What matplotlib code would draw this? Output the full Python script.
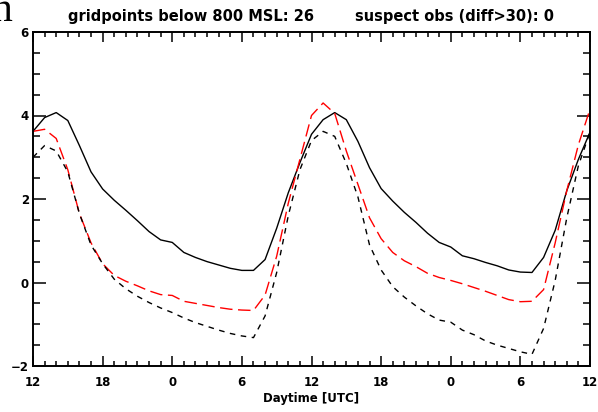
import matplotlib
matplotlib.use("Agg")
import matplotlib.pyplot as plt
from matplotlib.ticker import MultipleLocator

# hours since 12 UTC, hourly
hours = list(range(49))
tick_labels = ["12", "18", "0", "6", "12", "18", "0", "6", "12"]

# black solid
obs = [3.62, 3.95, 4.07, 3.88, 3.28, 2.65, 2.24, 1.97, 1.73, 1.48,
       1.22, 1.02, 0.96, 0.72, 0.60, 0.50, 0.42, 0.34, 0.29, 0.29,
       0.55, 1.30, 2.15, 2.87, 3.55, 3.90, 4.07, 3.90, 3.38, 2.75,
       2.25, 1.95, 1.68, 1.44, 1.18, 0.96, 0.85, 0.64, 0.57, 0.48,
       0.40, 0.30, 0.25, 0.24, 0.60, 1.25, 2.20, 2.95, 3.60]
# red long dashes
model_a = [3.62, 3.67, 3.45, 2.70, 1.65, 0.95, 0.45, 0.17, 0.03, -0.08,
           -0.20, -0.29, -0.31, -0.45, -0.50, -0.55, -0.60, -0.64, -0.66, -0.67,
           -0.30, 0.63, 1.90, 2.95, 4.00, 4.30, 4.05, 3.15, 2.35, 1.55,
           1.05, 0.72, 0.52, 0.38, 0.22, 0.12, 0.05, -0.03, -0.12, -0.21,
           -0.31, -0.41, -0.46, -0.45, -0.17, 0.95, 2.20, 3.30, 4.15]
# black short dashes
model_b = [3.00, 3.28, 3.15, 2.65, 1.65, 0.90, 0.45, 0.08, -0.15, -0.33,
           -0.48, -0.61, -0.72, -0.85, -0.96, -1.05, -1.14, -1.22, -1.28, -1.32,
           -0.80, 0.24, 1.60, 2.70, 3.40, 3.62, 3.50, 2.85, 2.05, 0.90,
           0.30, -0.10, -0.35, -0.56, -0.75, -0.90, -0.95, -1.14, -1.25, -1.40,
           -1.50, -1.58, -1.66, -1.72, -1.10, 0.05, 1.55, 2.80, 3.60]

fig = plt.figure(figsize=(5.98, 4.12), dpi=100)
ax = fig.add_axes([33/598, 46/412, 557/598, 334/412])

ax.plot(hours, obs, color="black", lw=1.0)
ax.plot(hours, model_a, color="red", lw=1.0, dashes=(9, 4))
ax.plot(hours, model_b, color="black", lw=1.0, dashes=(4, 4))

ax.set_xlim(0, 48)
ax.set_ylim(-2, 6)
ax.set_xticks(range(0, 49, 6))
ax.set_xticklabels(tick_labels)
ax.xaxis.set_minor_locator(MultipleLocator(1))
ax.set_yticks([-2, 0, 2, 4, 6])
ax.yaxis.set_minor_locator(MultipleLocator(0.5))

ax.tick_params(which="both", direction="in", top=True, right=True, width=1.1,
               labelsize=8.5)
ax.tick_params(axis="x", which="major", length=7, pad=7.5)
ax.tick_params(axis="x", which="minor", length=3.5)
ax.tick_params(axis="y", which="major", length=9.5, pad=3)
ax.tick_params(axis="y", which="minor", length=5)
for lab in ax.get_xticklabels() + ax.get_yticklabels():
    lab.set_fontweight("bold")
for s in ax.spines.values():
    s.set_linewidth(1.4)

ax.set_xlabel("Daytime [UTC]", fontsize=8.5, fontweight="bold", labelpad=2)
ax.set_title("gridpoints below 800 MSL: 26        suspect obs (diff>30): 0",
             fontsize=10.5, fontweight="bold", pad=8)

# stray glyph cut off at the top-left corner of the original image
fig.text(-8/598, 1 - 21/412, "n", fontsize=30, family="Liberation Serif",
         va="baseline", ha="left")

fig.savefig("out.png", dpi=100)
